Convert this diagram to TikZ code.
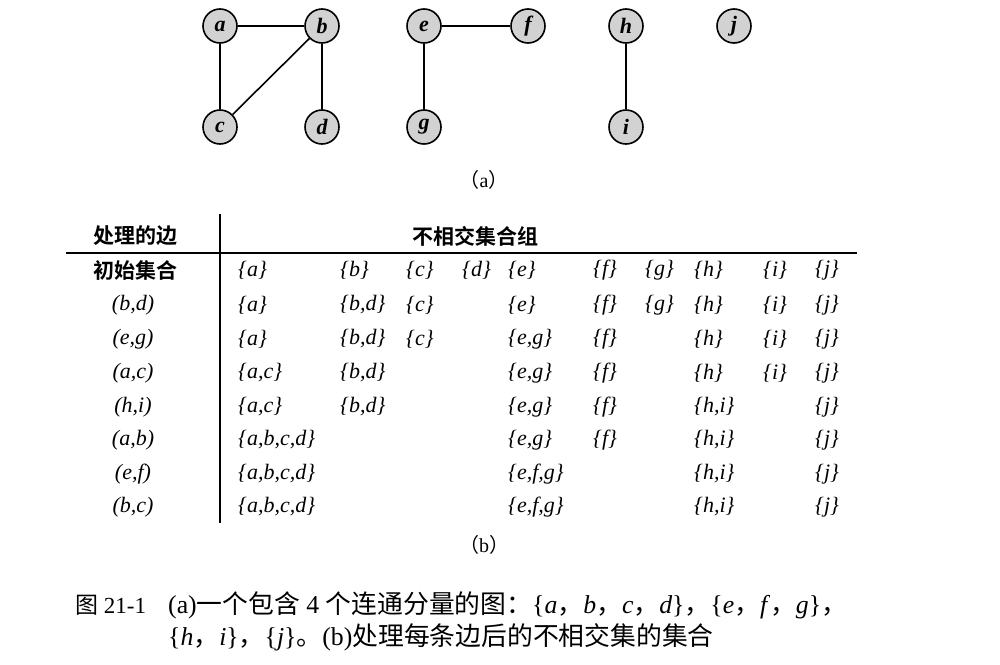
\documentclass[tikz,border=0pt]{standalone}
\usepackage{fontspec}
\setmainfont{Liberation Serif}
\newfontfamily\cjk{Noto Sans CJK SC}
\newfontfamily\cjkb{Noto Sans CJK SC Bold}
\begin{document}
\begin{tikzpicture}[x=1pt,y=-1pt,
  vtx/.style={circle,draw,line width=1.6pt,fill=gray!35,minimum size=34pt,inner sep=0pt,font=\fontsize{22}{22}\selectfont\bfseries\itshape},
  ed/.style={line width=1.6pt},
  tabrule/.style={line width=1.5pt},
  cell/.style={anchor=west,inner sep=0pt,font=\fontsize{22}{24}\selectfont\itshape},
  rowlab/.style={inner sep=0pt,font=\fontsize{22}{24}\selectfont\itshape},
  headtext/.style={inner sep=0pt,font=\fontsize{21}{24}\selectfont\cjkb},
  subtext/.style={inner sep=0pt,font=\fontsize{20}{22}\selectfont},
  captext/.style={anchor=west,inner sep=0pt,font=\fontsize{25.8}{28}\selectfont}]
\useasboundingbox (0,0) rectangle (1000,664);
% graph (a)
\node[vtx] (a) at (220,26) {a};
\node[vtx] (b) at (322,26) {b};
\node[vtx] (c) at (220,127) {c};
\node[vtx] (d) at (322,127) {d};
\node[vtx] (e) at (424,26) {e};
\node[vtx] (f) at (528,26) {f};
\node[vtx] (g) at (424,127) {g};
\node[vtx] (h) at (626,26) {h};
\node[vtx] (i) at (626,127) {i};
\node[vtx] (j) at (734,26) {j};
\draw[ed] (a) -- (b);
\draw[ed] (a) -- (c);
\draw[ed] (b) -- (c);
\draw[ed] (b) -- (d);
\draw[ed] (e) -- (f);
\draw[ed] (e) -- (g);
\draw[ed] (h) -- (i);
\node[subtext] (la) at (484,180) {{\cjk （}a{\cjk ）}};
% table (b)
\node[headtext] (h1) at (135,236) {处理的边};
\node[headtext] (h2) at (475,236) {不相交集合组};
\coordinate (vt) at (220,214);
\coordinate (vb) at (220,523);
\coordinate (hl) at (66,253);
\coordinate (hr) at (857,253);
\draw[tabrule] (vt) -- (vb);
\draw[tabrule] (hl) -- (hr);
\node[headtext] (r0) at (135,270) {初始集合};
\foreach \n/\y/\t in {1/305/{(b,d)},2/339/{(e,g)},3/373/{(a,c)},4/407/{(h,i)},5/440/{(a,b)},6/474/{(e,f)},7/507/{(b,c)}}
  \node[rowlab] (r\n) at (133,\y) {\t};
\foreach \n/\y/\cols in {
  0/270/{1/{a},2/{b},3/{c},4/{d},5/{e},6/{f},7/{g},8/{h},9/{i},10/{j}},
  1/305/{1/{a},2/{b,d},3/{c},5/{e},6/{f},7/{g},8/{h},9/{i},10/{j}},
  2/339/{1/{a},2/{b,d},3/{c},5/{e,g},6/{f},8/{h},9/{i},10/{j}},
  3/373/{1/{a,c},2/{b,d},5/{e,g},6/{f},8/{h},9/{i},10/{j}},
  4/407/{1/{a,c},2/{b,d},5/{e,g},6/{f},8/{h,i},10/{j}},
  5/440/{1/{a,b,c,d},5/{e,g},6/{f},8/{h,i},10/{j}},
  6/474/{1/{a,b,c,d},5/{e,f,g},8/{h,i},10/{j}},
  7/507/{1/{a,b,c,d},5/{e,f,g},8/{h,i},10/{j}}}
{
  \foreach \c/\s in \cols {
    \pgfmathsetmacro{\xx}{{0,238,340,406,462,508,593,645,694,763,815}[\c]}
    \node[cell] (c\n-\c) at (\xx,\y) {\{\s\}};
  }
}
\node[subtext] (lb) at (484,545) {{\cjk （}b{\cjk ）}};
% caption
\node[captext,font=\fontsize{23}{26}\selectfont] (cap0) at (75,605) {{\cjk 图} 21-1};
\node[captext] (cap1) at (168,605) {(a){\cjk 一个包含} 4 {\cjk 个连通分量的图：}\{\textit{a}{\cjk ，}\textit{b}{\cjk ，}\textit{c}{\cjk ，}\textit{d}\}{\cjk ，}\{\textit{e}{\cjk ，}\textit{f}{\cjk ，}\textit{g}\}{\cjk ，}};
\node[captext] (cap2) at (168,637) {\{\textit{h}{\cjk ，}\textit{i}\}{\cjk ，}\{\textit{j}\}{\cjk 。}(b){\cjk 处理每条边后的不相交集的集合}};
\end{tikzpicture}
\end{document}
